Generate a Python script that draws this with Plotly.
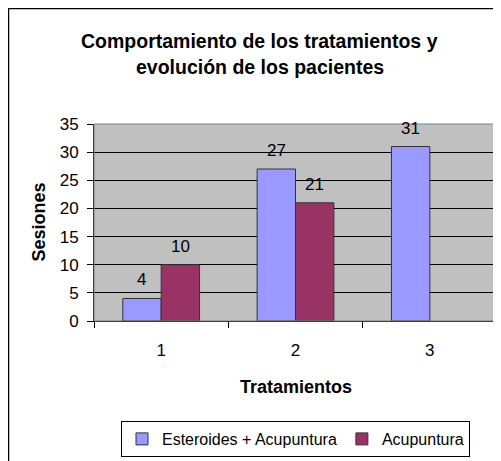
import plotly.graph_objects as go

categories = ["1", "2", "3"]
series_names = ["Esteroides + Acupuntura", "Acupuntura"]
esteroides_acup = [4, 27, 31]
acupuntura = [10, 21, None]
series_values = [esteroides_acup, acupuntura]
colors = ["#9999FF", "#993366"]
y_ticks = [0, 5, 10, 15, 20, 25, 30, 35]
title_lines = ["Comportamiento de los tratamientos y", "evolución de los pacientes"]
x_title = "Tratamientos"
y_title = "Sesiones"

FONT = "Liberation Sans, Arial, sans-serif"
W, H = 501, 461
OFF = 8  # page body margin: figure starts at (8, 8) in the window
# plot area in window pixels: x 94..497, y 124..321
PL, PR, PT, PB = 94, 497, 124, 321
ML, MT = PL - OFF, PT - OFF
MR = W - (PR - OFF)
MB = H - (PB - OFF)
PW = PR - PL
PH = PB - PT
BARGAP = 0.4286

fig = go.Figure()
for name, vals, col in zip(series_names, series_values, colors):
    fig.add_trace(go.Bar(
        x=categories, y=vals, name=name,
        marker=dict(color=col, line=dict(color="#333333", width=1)),
    ))

# data labels
cat_px = PW / len(categories)
bar_px = cat_px * (1 - BARGAP) / len(series_values)
annotations = []
for si, vals in enumerate(series_values):
    shift = (si - (len(series_values) - 1) / 2) * bar_px
    for ci, v in enumerate(vals):
        if v is None:
            continue
        annotations.append(dict(
            x=ci, y=v, xref="x", yref="y", text=str(v), showarrow=False,
            xshift=shift, yshift=7, yanchor="bottom",
            font=dict(family=FONT, size=17, color="black"),
        ))

def px_to_px(x):  # window x -> paper x
    return (x - PL) / PW

def py_to_py(y):  # window y -> paper y
    return (PB - y) / PH

# titles
for line, ypx in zip(title_lines, [41, 67.5]):
    annotations.append(dict(
        x=px_to_px(259.5), y=py_to_py(ypx), xref="paper", yref="paper",
        text="<b>%s</b>" % line, showarrow=False, xanchor="center", yanchor="middle",
        font=dict(family=FONT, size=19.5, color="black"),
    ))
annotations.append(dict(
    x=0.5, y=py_to_py(387), xref="paper", yref="paper", text="<b>%s</b>" % x_title,
    showarrow=False, xanchor="center", yanchor="middle",
    font=dict(family=FONT, size=18, color="black"),
))
annotations.append(dict(
    x=px_to_px(38), y=0.5, xref="paper", yref="paper", text="<b>%s</b>" % y_title,
    showarrow=False, xanchor="center", yanchor="middle", textangle=-90,
    font=dict(family=FONT, size=18, color="black"),
))

shapes = [
    dict(type="rect", xref="paper", yref="paper", x0=0, y0=0, x1=1, y1=1,
         line=dict(color="#808080", width=1), layer="above"),
    dict(type="rect", xref="paper", yref="paper",
         x0=px_to_px(8.5), y0=py_to_py(OFF + H - 1), x1=px_to_px(OFF + W - 1), y1=py_to_py(8.5),
         line=dict(color="black", width=1.5), layer="above"),
]

fig.update_layout(
    width=W, height=H,
    margin=dict(l=ML, r=MR, t=MT, b=MB, autoexpand=False),
    paper_bgcolor="white", plot_bgcolor="#C0C0C0",
    barmode="group", bargap=BARGAP, bargroupgap=0,
    font=dict(family=FONT, size=17, color="black"),
    showlegend=True,
    legend=dict(
        orientation="h", x=0.5, xanchor="center", y=py_to_py(421), yanchor="top",
        bgcolor="white", bordercolor="black", borderwidth=1,
        font=dict(family=FONT, size=16, color="black"),
        traceorder="normal", itemwidth=30,
    ),
    annotations=annotations,
    shapes=shapes,
)
fig.update_xaxes(
    type="category", tickson="boundaries", ticks="outside", ticklen=6,
    tickcolor="black", showline=True, linecolor="black", linewidth=1,
    showgrid=False, ticklabelstandoff=14,
    tickfont=dict(family=FONT, size=17, color="black"),
)
fig.update_yaxes(
    range=[0, 35], tickvals=y_ticks, ticks="outside", ticklen=6, tickcolor="black",
    showline=True, linecolor="black", linewidth=1,
    showgrid=True, gridcolor="black", gridwidth=1, zeroline=False,
    ticklabelstandoff=5,
    tickfont=dict(family=FONT, size=17, color="black"),
)

fig.write_html("out.html")
